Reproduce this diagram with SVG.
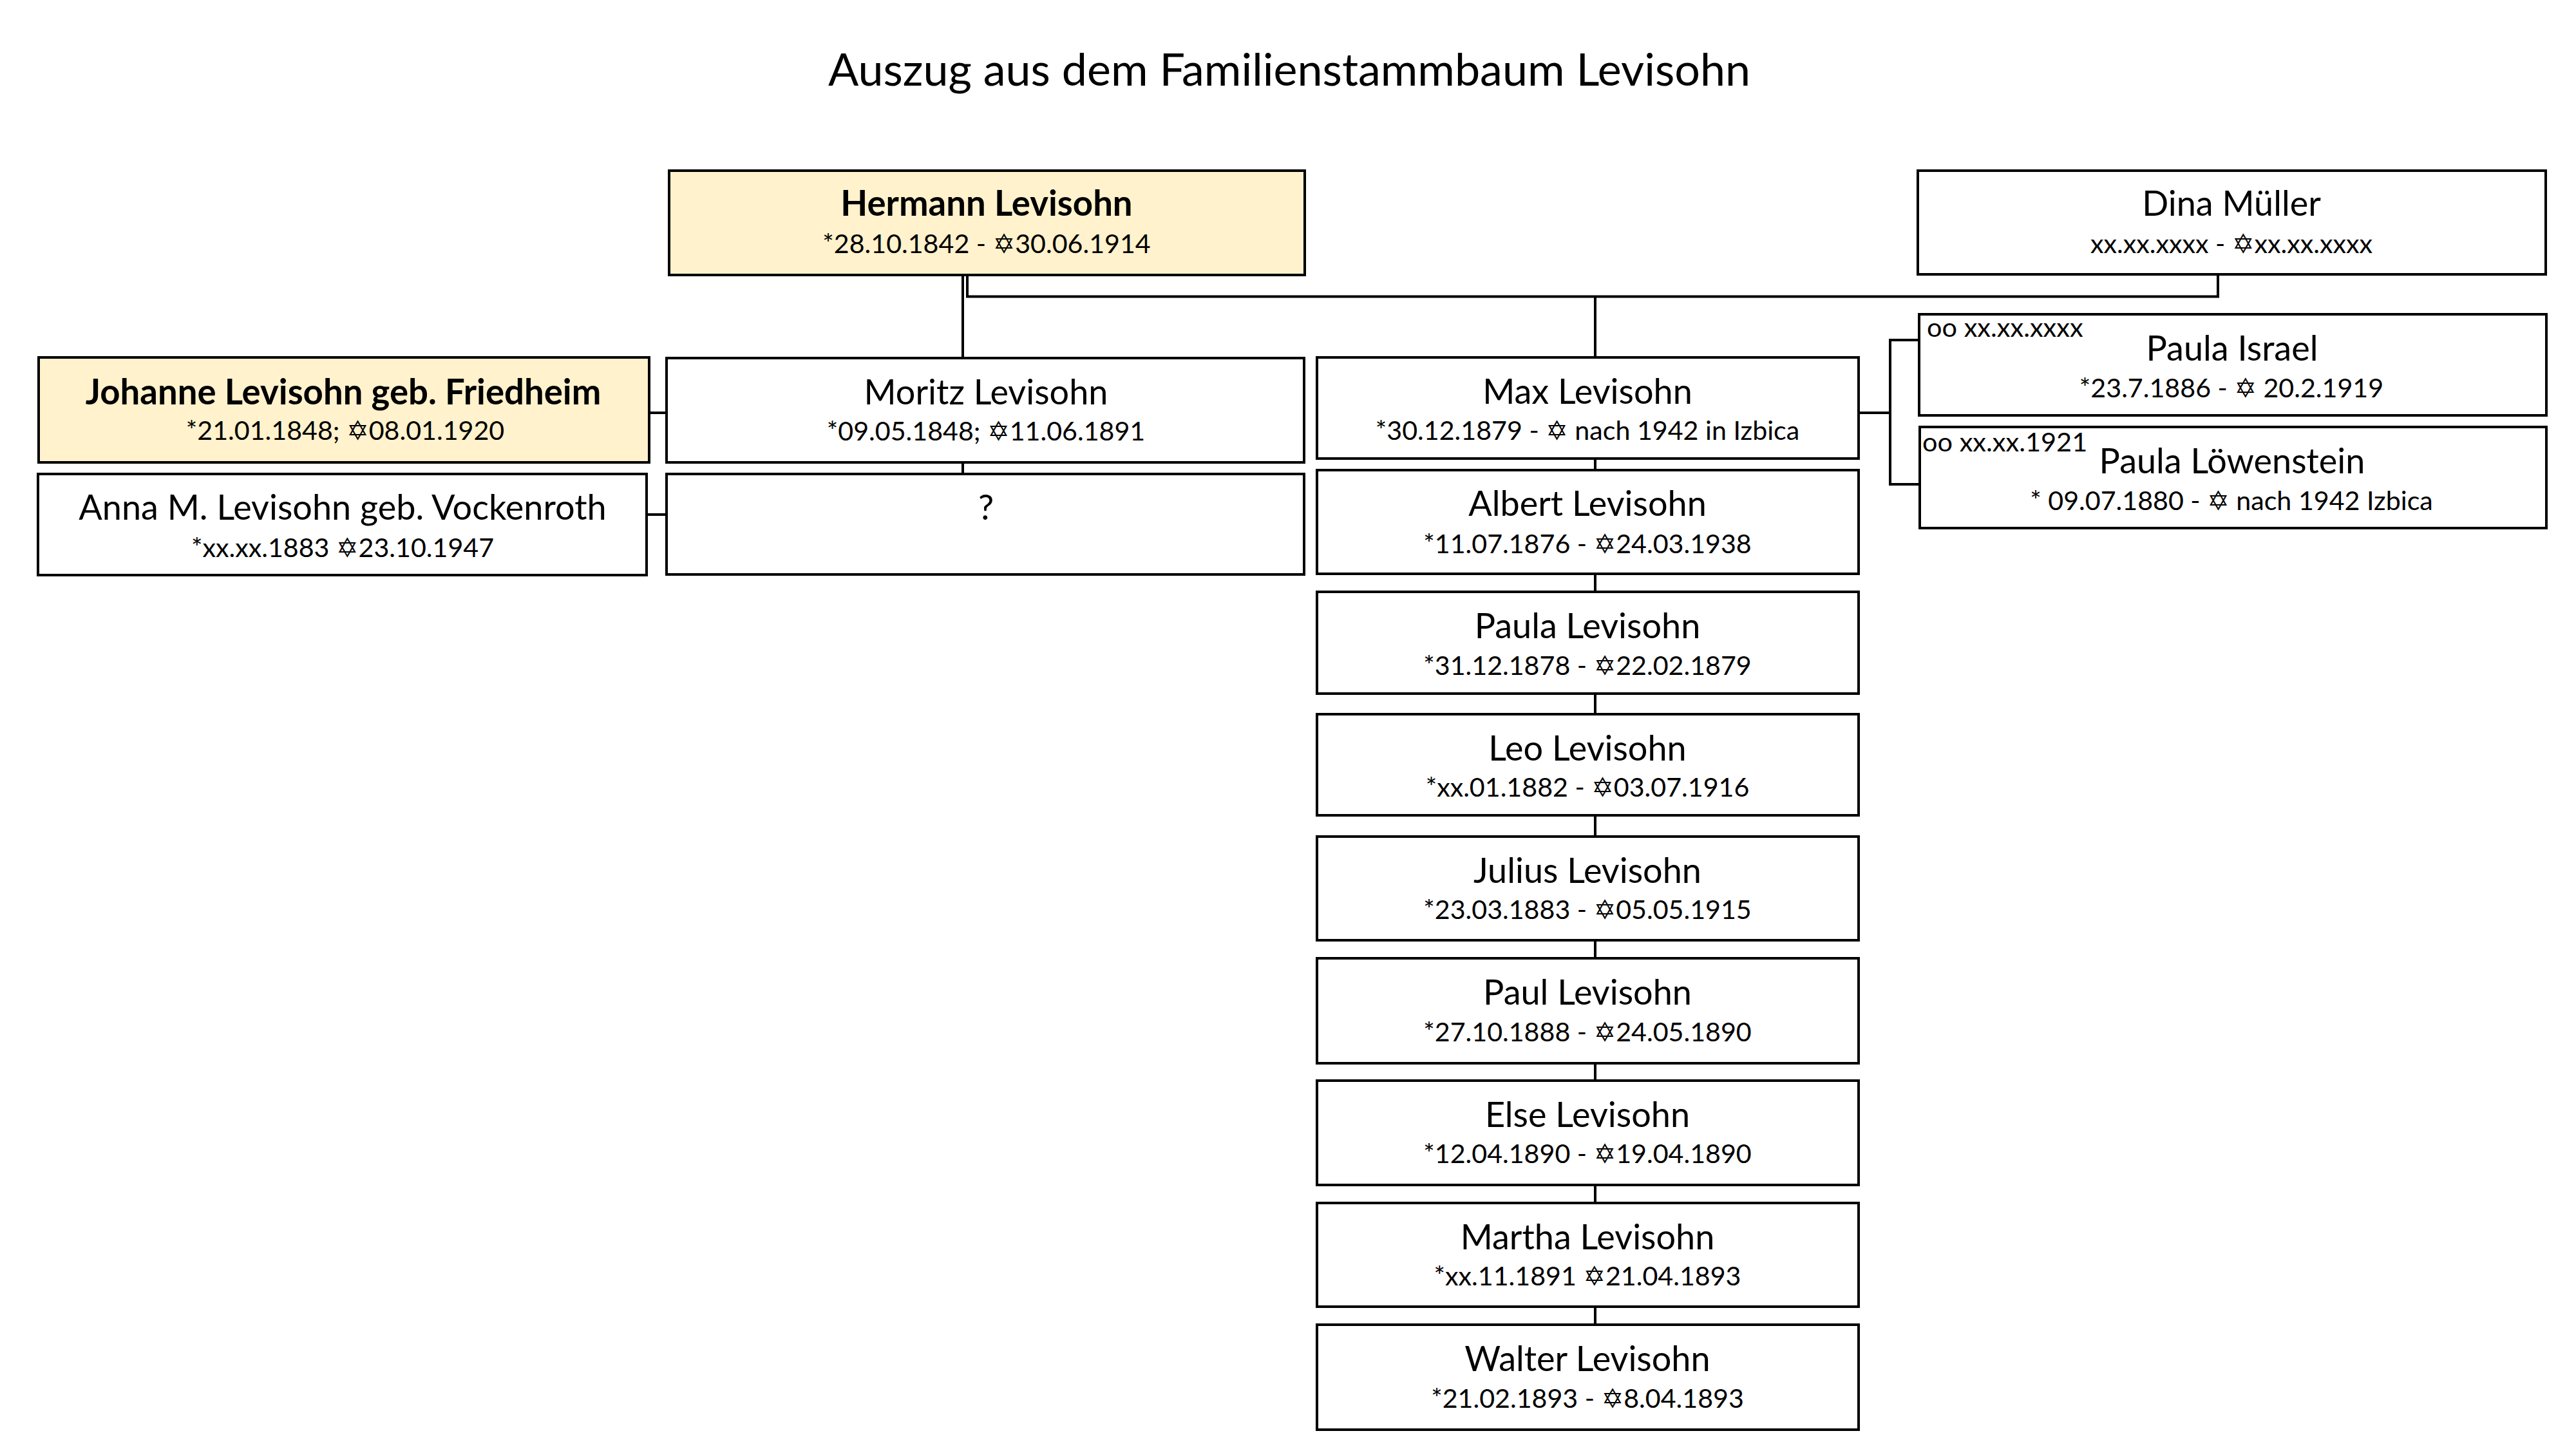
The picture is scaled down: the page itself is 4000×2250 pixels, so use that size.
<svg xmlns="http://www.w3.org/2000/svg" width="4000" height="2250" viewBox="0 0 4000 2250">
<style>
text{font-family:"Lato","Liberation Sans","DejaVu Sans",sans-serif;fill:#000;text-anchor:middle}
.t{font-size:70px}
.n{font-size:54px}
.b{font-size:54.5px;font-weight:700}
.d{font-size:41.2px}
.o{font-size:41.5px;text-anchor:start}
rect{fill:#fff;stroke:#000;stroke-width:4}
rect.h{fill:#fff2cc}
#connectors path{fill:none;stroke:#000;stroke-width:4}
</style>
<rect width="4000" height="2250" style="fill:#fff;stroke:none"/>
<text class="t" x="2002" y="133">Auszug aus dem Familienstammbaum Levisohn</text>
<g id="connectors">
<path d="M1495 427V556M1495 718V736M1502 427V460.5H3444V426M2477 460.5V555"/>
<path d="M1008 641H1035M1004 799H1035"/>
<path d="M2886 641H2935M2980 528H2935V752H2981"/>
<path d="M2477 712V730M2477 891V919M2477 1077V1109M2477 1266V1299M2477 1460V1488M2477 1651V1678M2477 1840V1868M2477 2029V2057"/>
</g>
<g id="hermann"><rect class="h" x="1039" y="265" width="987" height="162"/><text class="b" x="1532" y="335">Hermann Levisohn</text><text class="d" x="1532" y="392.500">*28.10.1842 - ✡30.06.1914</text></g>
<g id="dina"><rect x="2978" y="265" width="975" height="161"/><text class="n" x="3465" y="335">Dina Müller</text><text class="d" x="3465" y="392.500">xx.xx.xxxx - ✡xx.xx.xxxx</text></g>
<g id="johanne"><rect class="h" x="60" y="555" width="948" height="163"/><text class="b" x="533" y="628">Johanne Levisohn geb. Friedheim</text><text class="d" x="536" y="682.500">*21.01.1848; ✡08.01.1920</text></g>
<g id="anna"><rect x="59" y="736" width="945" height="157"/><text class="n" x="532" y="807">Anna M. Levisohn geb. Vockenroth</text><text class="d" x="532" y="864.500">*xx.xx.1883 ✡23.10.1947</text></g>
<g id="moritz"><rect x="1035" y="556" width="990" height="162"/><text class="n" x="1531" y="628">Moritz Levisohn</text><text class="d" x="1531" y="683.500">*09.05.1848; ✡11.06.1891</text></g>
<g id="unknown"><rect x="1035" y="736" width="990" height="156"/><text class="n" x="1531" y="807">?</text></g>
<g id="max"><rect x="2045" y="555" width="841" height="157"/><text class="n" x="2465" y="627">Max Levisohn</text><text class="d" x="2465" y="682.500">*30.12.1879 - ✡ nach 1942 in Izbica</text></g>
<g id="albert"><rect x="2045" y="730" width="841" height="161"/><text class="n" x="2465" y="801">Albert Levisohn</text><text class="d" x="2465" y="858.500">*11.07.1876 - ✡24.03.1938</text></g>
<g id="paula"><rect x="2045" y="919" width="841" height="158"/><text class="n" x="2465" y="991">Paula Levisohn</text><text class="d" x="2465" y="1047.500">*31.12.1878 - ✡22.02.1879</text></g>
<g id="leo"><rect x="2045" y="1109" width="841" height="157"/><text class="n" x="2465" y="1181">Leo Levisohn</text><text class="d" x="2465" y="1236.500">*xx.01.1882 - ✡03.07.1916</text></g>
<g id="julius"><rect x="2045" y="1299" width="841" height="161"/><text class="n" x="2465" y="1371">Julius Levisohn</text><text class="d" x="2465" y="1426.500">*23.03.1883 - ✡05.05.1915</text></g>
<g id="paul"><rect x="2045" y="1488" width="841" height="163"/><text class="n" x="2465" y="1560">Paul Levisohn</text><text class="d" x="2465" y="1616.500">*27.10.1888 - ✡24.05.1890</text></g>
<g id="else"><rect x="2045" y="1678" width="841" height="162"/><text class="n" x="2465" y="1750">Else Levisohn</text><text class="d" x="2465" y="1805.500">*12.04.1890 - ✡19.04.1890</text></g>
<g id="martha"><rect x="2045" y="1868" width="841" height="161"/><text class="n" x="2465" y="1940">Martha Levisohn</text><text class="d" x="2465" y="1995.500">*xx.11.1891 ✡21.04.1893</text></g>
<g id="walter"><rect x="2045" y="2057" width="841" height="163"/><text class="n" x="2465" y="2129">Walter Levisohn</text><text class="d" x="2465" y="2185.500">*21.02.1893 - ✡8.04.1893</text></g>
<g id="paula-israel"><rect x="2980" y="488" width="974" height="157"/><text class="n" x="3466" y="560">Paula Israel</text><text class="d" x="3465" y="616.500">*23.7.1886 - ✡ 20.2.1919</text><text class="o" x="2992" y="523">oo xx.xx.xxxx</text></g>
<g id="paula-loewenstein"><rect x="2981" y="663" width="973" height="157"/><text class="n" x="3466" y="735">Paula Löwenstein</text><text class="d" x="3465" y="791.500">* 09.07.1880 - ✡ nach 1942 Izbica</text><text class="o" x="2985" y="701">oo xx.xx.1921</text></g>
</svg>
